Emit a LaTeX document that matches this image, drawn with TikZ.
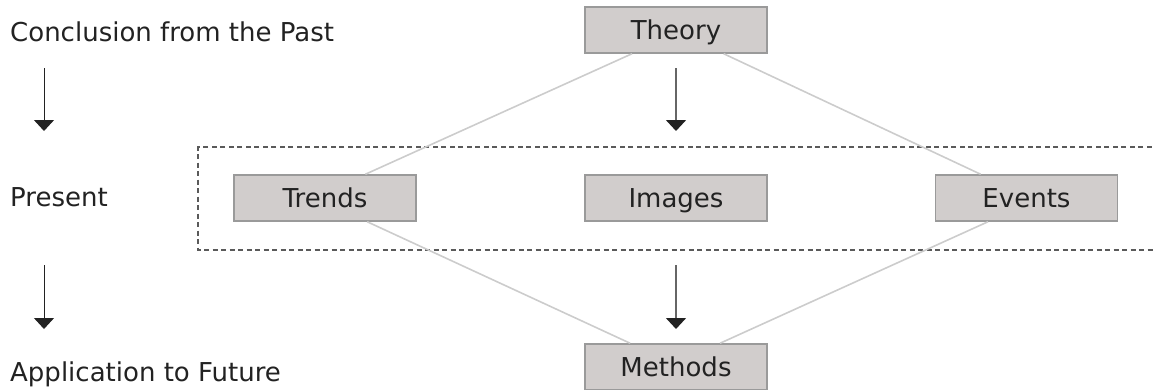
\documentclass[tikz,border=0pt]{standalone}
\usepackage{fontspec}
\setmainfont{DejaVu Sans}
\usetikzlibrary{arrows.meta,calc}
\definecolor{boxfill}{HTML}{D1CDCC}
\definecolor{boxdraw}{HTML}{9A9A9A}
\definecolor{linkgray}{HTML}{CCCCCC}
\definecolor{txt}{HTML}{222222}
\definecolor{dashgray}{HTML}{5A5A5A}
\definecolor{midgray}{HTML}{666666}
\begin{document}
\begin{tikzpicture}[x=1pt,y=-1pt,
  every node/.style={font=\fontsize{26}{30}\selectfont, text=txt},
  stepbox/.style={draw=boxdraw, line width=1.5pt, fill=boxfill, minimum width=182pt, minimum height=46pt, inner sep=0pt, text height=19pt, text depth=0pt},
  sidelabel/.style={anchor=base west, inner sep=0pt},
  link/.style={draw=linkgray, line width=1.6pt},
  flowarrow/.style={draw=txt, line width=1pt, -{Triangle[width=20pt,length=11pt]}},
  midarrow/.style={draw=midgray, line width=1.6pt, -{Triangle[width=20pt,length=11pt,color=txt,fill=txt]}},
  groupframe/.style={draw=dashgray, line width=1.8pt, dash pattern=on 5pt off 3.5pt}
]
\useasboundingbox (0,0) rectangle (1154,389);

% group frame (right side runs out of the picture)
\coordinate (gTR) at (1160,147);
\coordinate (gTL) at (198,147);
\coordinate (gBL) at (198,250);
\coordinate (gBR) at (1160,250);
\draw[groupframe] (gTR) -- (gTL) -- (gBL) -- (gBR);

% boxes
\node[stepbox] (theory)  at (676,30)    {Theory};
\node[stepbox] (trends)  at (325,198)   {Trends};
\node[stepbox] (images)  at (676,198)   {Images};
\node[stepbox] (events)  at (1026.5,198) {Events};
\node[stepbox] (methods) at (676,367)   {Methods};

% side labels
\node[sidelabel] (past)    at (10,41)  {Conclusion from the Past};
\node[sidelabel] (present) at (10,206) {Present};
\node[sidelabel] (future)  at (10,381) {Application to Future};

% links
\draw[link] ($(theory.south west)!0.26!(theory.south east)$) -- ($(trends.north west)!0.72!(trends.north east)$);
\draw[link] ($(theory.south west)!0.76!(theory.south east)$) -- ($(events.north west)!0.25!(events.north east)$);
\draw[link] ($(trends.south west)!0.73!(trends.south east)$) -- ($(methods.north west)!0.25!(methods.north east)$);
\draw[link] ($(events.south west)!0.29!(events.south east)$) -- ($(methods.north west)!0.74!(methods.north east)$);

% arrows
\coordinate (la1) at (44,68);  \coordinate (lb1) at (44,131);
\coordinate (la2) at (44,265); \coordinate (lb2) at (44,329);
\coordinate (ca1) at (676,68);  \coordinate (cb1) at (676,131);
\coordinate (ca2) at (676,265); \coordinate (cb2) at (676,329);
\draw[flowarrow] (la1) -- (lb1);
\draw[flowarrow] (la2) -- (lb2);
\draw[midarrow] (ca1) -- (cb1);
\draw[midarrow] (ca2) -- (cb2);
\end{tikzpicture}
\end{document}
